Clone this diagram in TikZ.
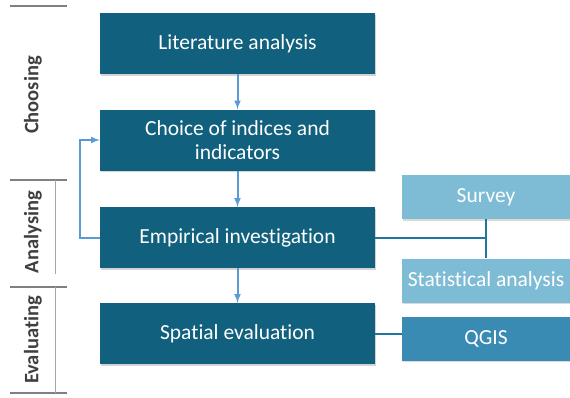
\documentclass[tikz,border=0pt]{standalone}
\usepackage{fontspec}
\setmainfont{Carlito}[Ligatures=NoCommon]
\usetikzlibrary{shadows}

\definecolor{darkbox}{RGB}{17,96,126}
\definecolor{lightbox}{RGB}{126,188,214}
\definecolor{midbox}{RGB}{58,139,180}
\definecolor{arrowblue}{RGB}{91,155,213}
\definecolor{linkteal}{RGB}{30,120,158}
\definecolor{phasegray}{RGB}{64,64,64}

\begin{document}
\begin{tikzpicture}[x=1pt,y=1pt]
            \tikzstyle{every node}+=[inner sep=0pt, font=\fontsize{21.5}{24}\selectfont]
            \tikzstyle{stepbox}=[fill=darkbox, text=white, minimum width=275, minimum height=61, align=center,
                drop shadow={shadow xshift=1pt, shadow yshift=-1.5pt, opacity=0.35}]
            \tikzstyle{toolbox}=[fill=lightbox, text=white, minimum width=168, minimum height=44, align=center,
                drop shadow={shadow xshift=1pt, shadow yshift=-1.5pt, opacity=0.3}]
            \tikzstyle{phase}=[rotate=90, text=phasegray, font=\fontsize{20.5}{24}\selectfont\bfseries]
            \useasboundingbox (0,0) rectangle (570,-397);
            % main steps
            \node [stepbox] (lit) at (237.5,-43.5) {Literature analysis};
            \node [stepbox] (choice) at (237.5,-140) {Choice of indices and\\indicators};
            \node [stepbox] (emp) at (237.5,-237.5) {Empirical investigation};
            \node [stepbox] (spat) at (237.5,-333.5) {Spatial evaluation};
            % tools
            \node [toolbox] (survey) at (486,-197) {Survey};
            \node [toolbox] (stat) at (486,-280.5) {Statistical analysis};
            \node [toolbox, fill=midbox] (qgis) at (486,-338.5) {QGIS};
            % phases
            \node [phase] (choosing) at (33,-95) {Choosing};
            \node [phase] (analysing) at (33,-232) {Analysing};
            \node [phase] (evaluating) at (33,-340) {Evaluating};
            \draw [gray, line width=1.5] (10,-6) -- (67,-6);
            \draw [gray, line width=1.5] (10,-180) -- (67,-180);
            \draw [gray, line width=1.5] (10,-287) -- (67,-287);
            \draw [gray, line width=1.5] (10,-393) -- (67,-393);
            \draw [gray!70, line width=1] (55,-180) -- (55,-274);
            \draw [gray!70, line width=1] (55,-287) -- (55,-393);
            % arrows
            \draw [arrowblue, line width=2, -latex] (lit) -- (choice);
            \draw [arrowblue, line width=2, -latex] (choice) -- (emp);
            \draw [arrowblue, line width=2, -latex] (emp) -- (spat);
            \draw [arrowblue, line width=2, -latex] (emp.west) -- ++(-20,0) |- (choice.west);
            % links to tools
            \coordinate (hub) at (survey.south |- emp.east);
            \draw [linkteal, line width=2] (emp.east) -- (hub);
            \draw [linkteal, line width=2] (survey.south) -- (stat.north);
            \draw [linkteal, line width=2] (spat.east) -- (spat.east -| qgis.west);
\end{tikzpicture}
\end{document}
